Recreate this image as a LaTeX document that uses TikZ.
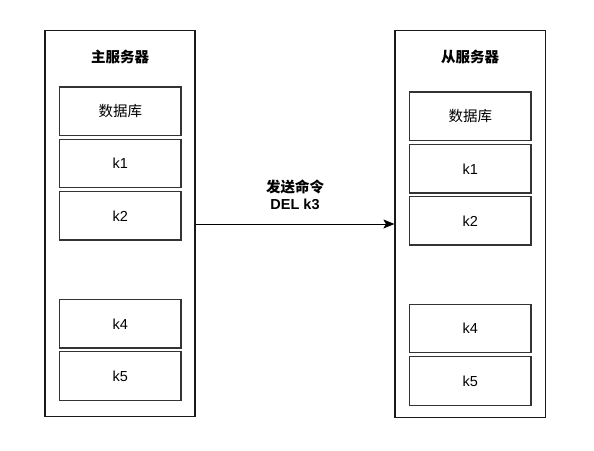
\documentclass[tikz,border=0pt]{standalone}
\usepackage{fontspec}
\usetikzlibrary{arrows.meta}
\setmainfont{Liberation Sans}
\newfontfamily\cjk{Noto Sans CJK SC}
\begin{document}
\begin{tikzpicture}[x=1pt,y=-1pt,
  outer/.style={draw=black!90,line width=1.2pt,fill=white,inner sep=0pt,minimum width=150pt,minimum height=386.5pt},
  cell/.style={draw=black!80,line width=1.2pt,fill=white,inner sep=0pt,minimum width=121.5pt,minimum height=48.5pt,font=\fontsize{14.5}{17}\selectfont},
  ttl/.style={font=\bfseries\fontsize{14.5}{17}\selectfont},
  lbl/.style={font=\bfseries\fontsize{14.5}{17}\selectfont,align=center}]
\useasboundingbox (0,0) rectangle (594,450);
\fill[white] (0,0) rectangle (594,450);
% left server
\node[outer] (ls) at (120,223.5) {};
\node[ttl] (lt) at (120,57) {\cjk 主服务器};
\node[cell] (ldb) at (120.25,111.25) {\cjk 数据库};
\node[cell] (lk1) at (120.25,163.5) {k1};
\node[cell] (lk2) at (120.25,215.75) {k2};
\node[cell] (lk4) at (120.25,323.75) {k4};
\node[cell] (lk5) at (120.25,376) {k5};
% right server
\node[outer,minimum width=150.5pt,minimum height=387pt] (rs) at (470.25,224) {};
\node[ttl] (rt) at (470,57) {\cjk 从服务器};
\node[cell] (rdb) at (470.25,116.25) {\cjk 数据库};
\node[cell] (rk1) at (470.25,168.75) {k1};
\node[cell] (rk2) at (470.25,220.75) {k2};
\node[cell] (rk4) at (470.25,328.5) {k4};
\node[cell] (rk5) at (470.25,381) {k5};
% connector
\draw[line width=1pt,-{Stealth[length=11pt,width=9pt,inset=2.5pt]}] (ls.east |- 0,224) -- (rs.west |- 0,224);
\node[lbl] (cmd) at (295,195) {{\cjk 发送命令}\\DEL k3};
\end{tikzpicture}
\end{document}
